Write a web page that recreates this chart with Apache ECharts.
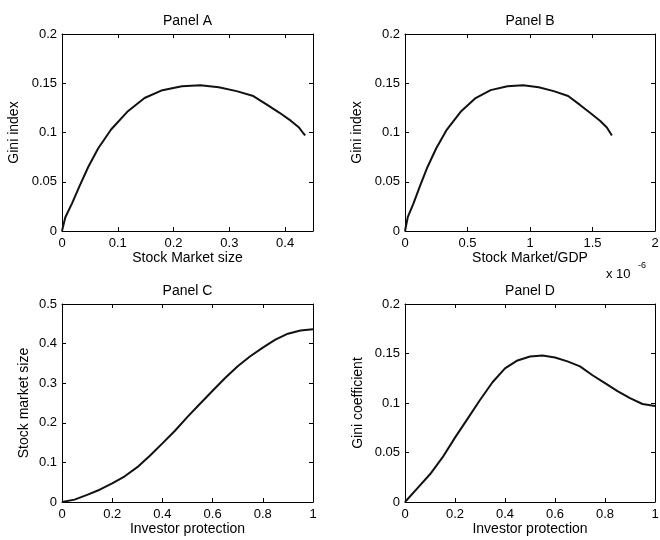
<!DOCTYPE html>
<html>
<head>
<meta charset="utf-8">
<script src="https://cdn.jsdelivr.net/npm/echarts@6/dist/echarts.min.js"></script>
<style>
  html, body { margin: 0; padding: 0; background: #fff; }
  #chart { width: 660px; height: 540px; }
</style>
</head>
<body>
<div id="chart"></div>
<script>
const protection = [0, 0.05, 0.1, 0.15, 0.2, 0.25, 0.3, 0.35, 0.4, 0.45, 0.5,
  0.55, 0.6, 0.65, 0.7, 0.75, 0.8, 0.85, 0.9, 0.95, 1]
// stock market size (panel C)
const marketSize = [0, 0.006, 0.018, 0.031, 0.047, 0.065, 0.088, 0.117, 0.148, 0.18, 0.215,
  0.248, 0.281, 0.313, 0.343, 0.368, 0.39, 0.41, 0.425, 0.433, 0.436]
// gini (panel D)
const gini = [0, 0.014, 0.028, 0.045, 0.065, 0.084, 0.103, 0.121, 0.135, 0.143, 0.147,
  0.148, 0.146, 0.142, 0.137, 0.128, 0.12, 0.112, 0.105, 0.099, 0.097]
// stock market / GDP, in units of 1e-6 (panel B)
const marketGdp = [0, 0.022, 0.068, 0.118, 0.18, 0.25, 0.335, 0.445, 0.565, 0.685, 0.82,
  0.945, 1.07, 1.19, 1.305, 1.4, 1.48, 1.56, 1.615, 1.645, 1.655]

const panelTitles = ['Panel A', 'Panel B', 'Panel C', 'Panel D']
const xNames = ['Stock Market size', 'Stock Market/GDP', 'Investor protection', 'Investor protection']
const yNames = ['Gini index', 'Gini index', 'Stock market size', 'Gini coefficient']

const zip = (xs, ys) => xs.map((x, i) => [x, ys[i]])

const font = 'Liberation Sans, Arial, sans-serif'

const grids = [
  { left: 62, top: 34, width: 251, height: 197 },
  { left: 405, top: 34, width: 250, height: 197 },
  { left: 62, top: 304, width: 251, height: 198 },
  { left: 405, top: 304, width: 250, height: 198 }
]

const xRanges = [
  { min: 0, max: 0.45, interval: 0.1 },
  { min: 0, max: 2, interval: 0.5 },
  { min: 0, max: 1, interval: 0.2 },
  { min: 0, max: 1, interval: 0.2 }
]
const yRanges = [
  { min: 0, max: 0.2, interval: 0.05 },
  { min: 0, max: 0.2, interval: 0.05 },
  { min: 0, max: 0.5, interval: 0.1 },
  { min: 0, max: 0.2, interval: 0.05 }
]
const yNameGaps = [41, 41, 31, 40]

const seriesData = [
  zip(marketSize, gini),
  zip(marketGdp, gini),
  zip(protection, marketSize),
  zip(protection, gini)
]

const lineAxis = { show: true, onZero: false, lineStyle: { color: '#000', width: 1 } }
const tick = { show: true, inside: true, length: 4, lineStyle: { color: '#000' } }

const xAxis = []
const yAxis = []
const series = []

grids.forEach((g, i) => {
  xAxis.push({
    type: 'value', gridIndex: i, position: 'bottom', ...xRanges[i],
    name: xNames[i], nameLocation: 'middle', nameGap: 15,
    nameTextStyle: { color: '#000', fontSize: 14, fontFamily: font },
    axisLine: lineAxis, axisTick: tick, splitLine: { show: false },
    axisLabel: { color: '#000', fontSize: 13, fontFamily: font, margin: 6, showMaxLabel: i !== 0 }
  })
  xAxis.push({
    type: 'value', gridIndex: i, position: 'top', ...xRanges[i],
    name: panelTitles[i], nameLocation: 'middle', nameGap: 6,
    nameTextStyle: { color: '#000', fontSize: 14, fontFamily: font },
    axisLine: lineAxis, axisTick: tick, splitLine: { show: false },
    axisLabel: { show: false }
  })
  yAxis.push({
    type: 'value', gridIndex: i, position: 'left', ...yRanges[i],
    name: yNames[i], nameLocation: 'middle', nameGap: yNameGaps[i],
    nameTextStyle: { color: '#000', fontSize: 14, fontFamily: font },
    axisLine: lineAxis, axisTick: tick, splitLine: { show: false },
    axisLabel: { color: '#000', fontSize: 13, fontFamily: font, margin: 5 }
  })
  yAxis.push({
    type: 'value', gridIndex: i, position: 'right', ...yRanges[i],
    axisLine: lineAxis, axisTick: tick, splitLine: { show: false },
    axisLabel: { show: false }
  })
  series.push({
    type: 'line', xAxisIndex: 2 * i, yAxisIndex: 2 * i,
    data: seriesData[i], symbol: 'none', smooth: false,
    lineStyle: { color: '#111', width: 2 }
  })
})

const chart = echarts.init(document.getElementById('chart'), null, { renderer: 'canvas' })
chart.setOption({
  animation: false,
  backgroundColor: '#fff',
  grid: grids.map(g => ({ ...g, containLabel: false, outerBoundsMode: 'none' })),
  xAxis,
  yAxis,
  series,
  graphic: [
    // exponent of panel B's x axis
    { type: 'text', left: 606, top: 268, style: { text: 'x 10', fontSize: 13, fontFamily: font, fill: '#000' } },
    { type: 'text', left: 638, top: 261, style: { text: '-6', fontSize: 9, fontFamily: font, fill: '#000' } }
  ]
})
</script>
</body>
</html>
